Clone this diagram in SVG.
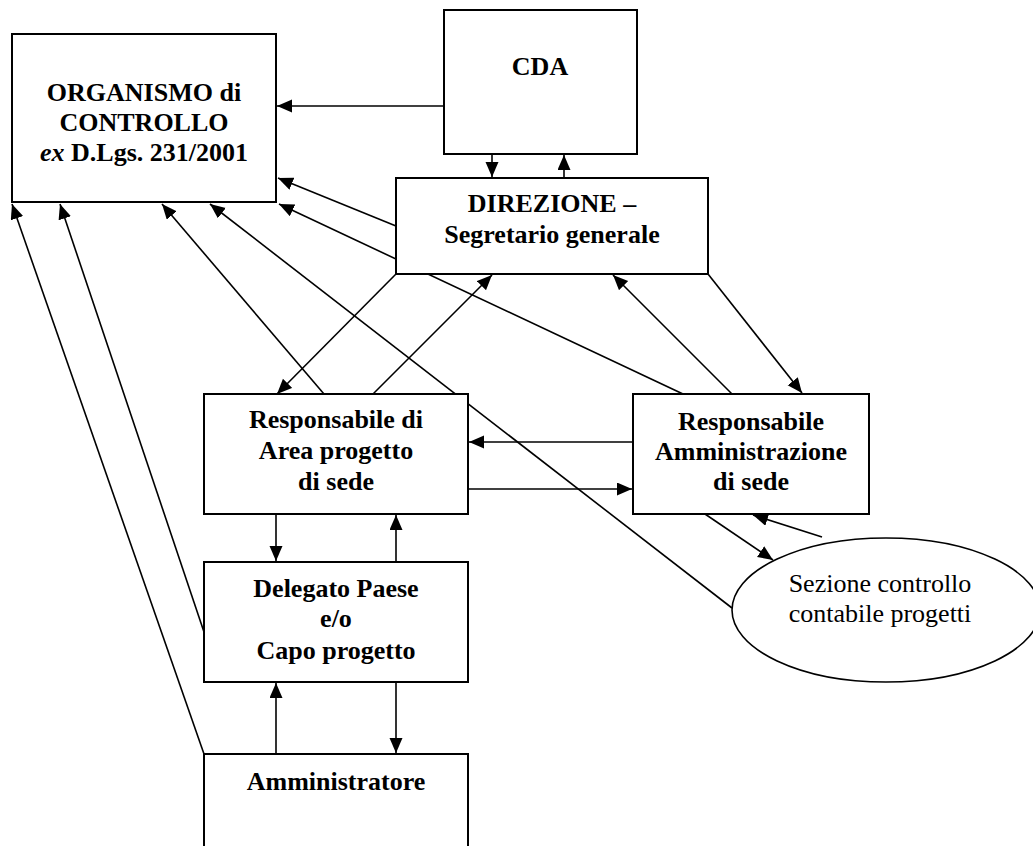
<svg xmlns="http://www.w3.org/2000/svg" width="1033" height="846" viewBox="0 0 1033 846">
<style>
.box{fill:#fff;stroke:#000;stroke-width:2}
.t{font-family:"Liberation Serif","Times New Roman",serif;font-size:26px;font-weight:bold;text-anchor:middle;fill:#000}
.r{font-weight:normal}
.c{stroke:#000;stroke-width:1.6;fill:none;marker-end:url(#ah)}
</style>
<defs>
<marker id="ah" markerUnits="userSpaceOnUse" markerWidth="16" markerHeight="14" refX="15" refY="6.5" orient="auto">
<path d="M0,0 L15,6.5 L0,13 z" fill="#000"/>
</marker>
</defs>
<rect width="1033" height="846" fill="#fff"/>
<g id="connectors">
<line class="c" x1="444" y1="106" x2="277" y2="106"/>
<line class="c" x1="492" y1="154" x2="492" y2="177"/>
<line class="c" x1="564" y1="177" x2="564" y2="155"/>
<line class="c" x1="396" y1="226" x2="278" y2="178"/>
<line class="c" x1="683" y1="394" x2="279" y2="204"/>
<line class="c" x1="396" y1="274" x2="277" y2="394"/>
<line class="c" x1="373" y1="394" x2="492" y2="275"/>
<line class="c" x1="324" y1="394" x2="162" y2="204"/>
<line class="c" x1="732" y1="608" x2="210" y2="204"/>
<line class="c" x1="204" y1="632" x2="60" y2="204"/>
<line class="c" x1="204" y1="754" x2="12" y2="204"/>
<line class="c" x1="732" y1="394" x2="613" y2="275"/>
<line class="c" x1="708" y1="274" x2="802" y2="393"/>
<line class="c" x1="633" y1="442" x2="469" y2="442"/>
<line class="c" x1="468" y1="489" x2="632" y2="489"/>
<line class="c" x1="276" y1="514" x2="276" y2="561"/>
<line class="c" x1="396" y1="562" x2="396" y2="515"/>
<line class="c" x1="276" y1="754" x2="276" y2="683"/>
<line class="c" x1="396" y1="682" x2="396" y2="753"/>
<line class="c" x1="705" y1="514" x2="773" y2="560"/>
<line class="c" x1="822" y1="537" x2="753" y2="515"/>
</g>
<g id="odc">
<rect class="box" x="12" y="34" width="264" height="168"/>
<text class="t" x="144" y="101">ORGANISMO di</text>
<text class="t" x="144" y="131">CONTROLLO</text>
<text class="t" x="144" y="161"><tspan font-style="italic">ex</tspan> D.Lgs. 231/2001</text>
</g>
<g id="cda">
<rect class="box" x="444" y="10" width="193" height="144"/>
<text class="t" x="540" y="75">CDA</text>
</g>
<g id="direzione">
<rect class="box" x="396" y="178" width="312" height="96"/>
<text class="t" x="552" y="212">DIREZIONE –</text>
<text class="t" x="552" y="243">Segretario generale</text>
</g>
<g id="resp-area">
<rect class="box" x="204" y="394" width="264" height="120"/>
<text class="t" x="336" y="428">Responsabile di</text>
<text class="t" x="336" y="459">Area progetto</text>
<text class="t" x="336" y="490">di sede</text>
</g>
<g id="resp-amm">
<rect class="box" x="633" y="394" width="236" height="120"/>
<text class="t" x="751" y="430">Responsabile</text>
<text class="t" x="751" y="460">Amministrazione</text>
<text class="t" x="751" y="490">di sede</text>
</g>
<g id="sezione">
<ellipse cx="886" cy="610" rx="154" ry="72" fill="#fff" stroke="#000" stroke-width="1.6"/>
<text class="t r" x="880" y="592">Sezione controllo</text>
<text class="t r" x="880" y="622">contabile progetti</text>
</g>
<g id="delegato">
<rect class="box" x="204" y="562" width="264" height="120"/>
<text class="t" x="336" y="597">Delegato Paese</text>
<text class="t" x="336" y="627">e/o</text>
<text class="t" x="336" y="659">Capo progetto</text>
</g>
<g id="amministratore">
<rect class="box" x="204" y="754" width="264" height="110"/>
<text class="t" x="336" y="790">Amministratore</text>
</g>
</svg>
